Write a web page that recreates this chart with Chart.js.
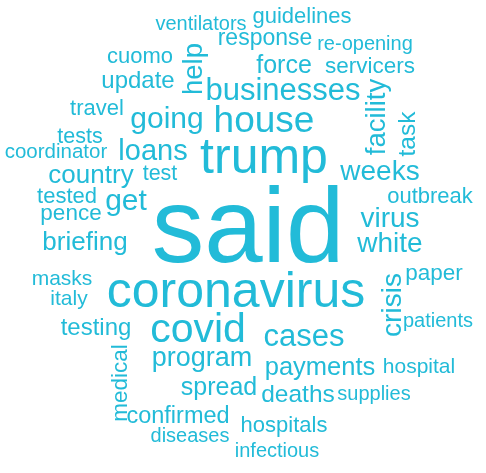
<!DOCTYPE html>
<html>
<head>
<meta charset="utf-8">
<script src="https://cdn.jsdelivr.net/npm/chart.js@4/dist/chart.umd.min.js"></script>
<style>
html,body{margin:0;padding:0;background:#fff;}
#wrap{width:486px;height:473px;}
</style>
</head>
<body>
<div id="wrap"><canvas id="c" width="486" height="473"></canvas></div>
<script>
// Words of the cloud
const words = ["said","coronavirus","trump","covid","house","businesses","cases","going","loans","get",
  "weeks","virus","white","program","country","briefing","payments","spread","force","deaths",
  "update","testing","confirmed","response","servicers","cuomo","travel","pence","paper","outbreak",
  "tested","hospitals","tests","test","guidelines","masks","italy","hospital","coordinator","re-opening",
  "ventilators","supplies","diseases","patients","infectious","help","facility","task","crisis","medical"];
// Weight of each word (shown as font size)
const weights = [105,50,50,41,37,31,31,30,29,30,
  28,28,28,27,26,26,25.5,25,25,24.5,
  24,24,23.5,23,22.5,22,22,22.5,22.5,22,
  22,22,21.5,21.5,22,21,21,21,20.5,20,
  20,20,20,20,20,27.5,27.5,24.5,28,22.5];
// Layout coordinates of each word in the cloud (x along, y down)
const layoutX = [248,236,264,198,264,283,304,167,153,126,
  380,390,390,202,91,85,320,219,284,298,
  138,96,178,265,370,140,97,71,434,430,
  67,284,80,160,302,62,69,419,56,365,
  201,374,190,438,277,202,385,415,401,127];
const layoutY = [262,307,173,342,132,100,346,128,160,210,
  180,227,252,366,183,250,375,395,73,402,
  88,335,423,45,73,63,115,220,280,203,
  203,432,143,180,23,285,305,373,158,50,
  30,400,442,327,457,69,117,134,305,383];
// Orientation: 1 = vertical (reads bottom to top)
const vertical = [0,0,0,0,0,0,0,0,0,0,
  0,0,0,0,0,0,0,0,0,0,
  0,0,0,0,0,0,0,0,0,0,
  0,0,0,0,0,0,0,0,0,0,
  0,0,0,0,0,1,1,1,1,1];

const COLOR = '#22bbd8';
const FONT = "'Liberation Sans', Arial, sans-serif";

const wordPlugin = {
  id: 'wordText',
  afterDatasetsDraw(chart) {
    const ctx = chart.ctx;
    const meta = chart.getDatasetMeta(0);
    ctx.save();
    ctx.fillStyle = COLOR;
    ctx.textAlign = 'center';
    ctx.textBaseline = 'alphabetic';
    meta.data.forEach((pt, i) => {
      ctx.save();
      ctx.translate(pt.x, pt.y);
      if (vertical[i]) ctx.rotate(-Math.PI / 2);
      ctx.font = weights[i] + 'px ' + FONT;
      ctx.fillText(words[i], 0, 0);
      ctx.restore();
    });
    ctx.restore();
  }
};

new Chart(document.getElementById('c'), {
  type: 'scatter',
  data: {
    datasets: [{
      label: 'words',
      data: words.map((w, i) => ({x: layoutX[i], y: layoutY[i]})),
      pointRadius: 0,
      pointHoverRadius: 0
    }]
  },
  options: {
    responsive: false,
    devicePixelRatio: 1,
    animation: false,
    layout: {padding: 0},
    plugins: {legend: {display: false}, tooltip: {enabled: false}},
    scales: {
      x: {type: 'linear', min: 0, max: 486, display: false},
      y: {type: 'linear', min: 0, max: 473, reverse: true, display: false}
    }
  },
  plugins: [wordPlugin]
});
</script>
</body>
</html>
